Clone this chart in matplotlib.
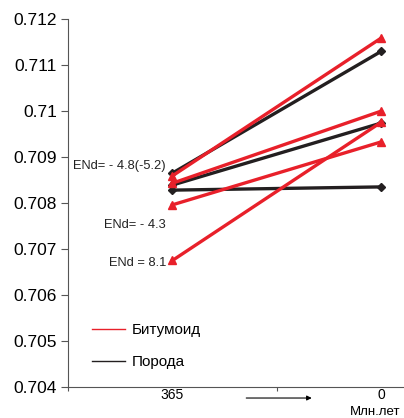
import matplotlib.pyplot as plt
from matplotlib.lines import Line2D

plt.rcParams['font.family'] = ['Liberation Sans', 'DejaVu Sans']

# возраст, млн. лет
ages = ['365', '0']

# Порода (чёрные линии)
rock = [
    [0.70865, 0.71130],
    [0.70839, 0.70974],
    [0.70828, 0.70835],
]
# Битумоид (красные линии)
bitumen = [
    [0.70859, 0.71159],
    [0.70843, 0.71000],
    [0.70796, 0.70933],
    [0.70675, 0.70976],
]

yticks = [0.704, 0.705, 0.706, 0.707, 0.708, 0.709, 0.71, 0.711, 0.712]
ytick_labels = ['0.704', '0.705', '0.706', '0.707', '0.708', '0.709', '0.71', '0.711', '0.712']

# подписи ENd
end_labels = ['ENd= - 4.8(-5.2)', 'ENd= - 4.3', 'ENd = 8.1']
end_y = [0.70880, 0.70753, 0.70669]

red = '#e8202a'
black = '#231f20'

fig = plt.figure(figsize=(4.04, 4.18), dpi=100)
ax = fig.add_axes([0.168, 0.0742, 0.832, 0.8803])

xpos = [0.5, 1.5]
for s in rock:
    ax.plot(xpos, s, color=black, lw=2.4, marker='D', ms=4.5, zorder=3)
for s in bitumen:
    ax.plot(xpos, s, color=red, lw=2.4, marker='^', ms=6, zorder=4)

for t, y in zip(end_labels, end_y):
    ax.text(0.47, y, t, fontsize=9.3, ha='right', va='center', color='#222222')

ax.set_ylim(0.704, 0.712)
ax.set_xlim(0, 1.608)
ax.set_yticks(yticks)
ax.set_yticklabels(ytick_labels, fontsize=12.5)
ax.set_xticks([0, 1])
ax.set_xticklabels([])
for x, t in zip(xpos, ages):
    ax.text(x, -0.004, t, transform=ax.get_xaxis_transform(), ha='center', va='top', fontsize=10)
fig.text(0.99, 0.001, 'Млн.лет', ha='right', va='bottom', fontsize=9.5)

ax.annotate('', xy=(1.18, -0.03), xytext=(0.84, -0.03), xycoords=ax.get_xaxis_transform(),
            arrowprops=dict(arrowstyle='-|>', color='black', lw=0.8, mutation_scale=7), annotation_clip=False)

ax.spines['top'].set_visible(False)
ax.spines['right'].set_visible(False)
ax.spines['left'].set_color('#555555')
ax.spines['bottom'].set_color('#555555')
ax.tick_params(axis='y', direction='out', length=5, color='#555555', pad=3)
ax.tick_params(axis='x', direction='out', length=3, color='#555555')

handles = [Line2D([], [], color=red, lw=1), Line2D([], [], color=black, lw=1)]
ax.legend(handles, ['Битумоид', 'Порода'], loc='upper left', bbox_to_anchor=(0.03, 0.21),
          frameon=False, fontsize=11, handlelength=2.2, labelspacing=1.15, handletextpad=0.4)

fig.savefig('out.png', dpi=100)
